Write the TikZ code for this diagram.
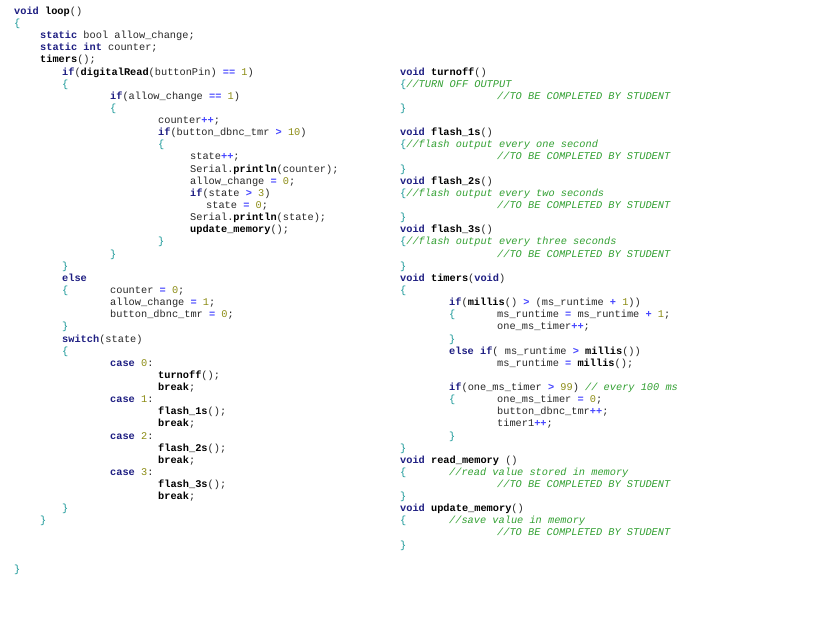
\documentclass[tikz,border=0pt]{standalone}
\usepackage{fontspec}
\setmainfont{Liberation Mono}
\definecolor{kwc}{RGB}{30,30,130}
\definecolor{opc}{RGB}{70,70,255}
\definecolor{nmc}{RGB}{140,140,20}
\definecolor{brc}{RGB}{20,150,150}
\definecolor{cmc}{RGB}{50,160,50}
\definecolor{txc}{RGB}{40,40,40}
\newcommand\kw[1]{\textcolor{kwc}{\textbf{#1}}}
\newcommand\fn[1]{\textcolor{black}{\textbf{#1}}}
\newcommand\op[1]{\textcolor{opc}{\textbf{#1}}}
\newcommand\nm[1]{\textcolor{nmc}{#1}}
\newcommand\br[1]{\textcolor{brc}{#1}}
\newcommand\cm[1]{\textcolor{cmc}{\textit{#1}}}
\newcounter{ln}
\newcommand\Ln[3]{\stepcounter{ln}\node[codeln] (l\arabic{ln}) at (#1,#2) {#3};}
\begin{document}
\begin{tikzpicture}[x=1pt,y=-1pt,
  codeln/.style={anchor=west,inner sep=0pt,text height=7pt,text depth=2pt,text=txc,font=\fontsize{10.3}{12}\selectfont}]
\useasboundingbox[fill=white] (0,0) rectangle (834,631);
\Ln{14}{12}{\kw{void} \fn{loop}()}
\Ln{14}{24}{\br{\{}}
\Ln{40}{36}{\kw{static} bool allow\_change;}
\Ln{40}{48}{\kw{static} \kw{int} counter;}
\Ln{40}{60}{\fn{timers}();}
\Ln{62}{73}{\kw{if}(\fn{digitalRead}(buttonPin) \op{==} \nm{1})}
\Ln{62}{85}{\br{\{}}
\Ln{110}{97}{\kw{if}(allow\_change \op{==} \nm{1})}
\Ln{110}{109}{\br{\{}}
\Ln{158}{121}{counter\op{++};}
\Ln{158}{133}{\kw{if}(button\_dbnc\_tmr \op{>} \nm{10})}
\Ln{158}{145}{\br{\{}}
\Ln{190}{157}{state\op{++};}
\Ln{190}{170}{Serial.\fn{println}(counter);}
\Ln{190}{182}{allow\_change \op{=} \nm{0};}
\Ln{190}{194}{\kw{if}(state \op{>} \nm{3})}
\Ln{206}{206}{state \op{=} \nm{0};}
\Ln{190}{218}{Serial.\fn{println}(state);}
\Ln{190}{230}{\fn{update\_memory}();}
\Ln{158}{242}{\br{\}}}
\Ln{110}{255}{\br{\}}}
\Ln{62}{267}{\br{\}}}
\Ln{62}{279}{\kw{else}}
\Ln{62}{291}{\br{\{}}
\Ln{110}{291}{counter \op{=} \nm{0};}
\Ln{110}{303}{allow\_change \op{=} \nm{1};}
\Ln{110}{315}{button\_dbnc\_tmr \op{=} \nm{0};}
\Ln{62}{327}{\br{\}}}
\Ln{62}{340}{\kw{switch}(state)}
\Ln{62}{352}{\br{\{}}
\Ln{110}{364}{\kw{case} \nm{0}:}
\Ln{158}{376}{\fn{turnoff}();}
\Ln{158}{388}{\fn{break};}
\Ln{110}{400}{\kw{case} \nm{1}:}
\Ln{158}{412}{\fn{flash\_1s}();}
\Ln{158}{424}{\fn{break};}
\Ln{110}{437}{\kw{case} \nm{2}:}
\Ln{158}{449}{\fn{flash\_2s}();}
\Ln{158}{461}{\fn{break};}
\Ln{110}{473}{\kw{case} \nm{3}:}
\Ln{158}{485}{\fn{flash\_3s}();}
\Ln{158}{497}{\fn{break};}
\Ln{62}{509}{\br{\}}}
\Ln{40}{521}{\br{\}}}
\Ln{14}{570}{\br{\}}}
% right column
\Ln{400}{73}{\kw{void} \fn{turnoff}()}
\Ln{400}{85}{\br{\{}\cm{//TURN OFF OUTPUT}}
\Ln{497}{97}{\cm{//TO BE COMPLETED BY STUDENT}}
\Ln{400}{109}{\br{\}}}
\Ln{400}{133}{\kw{void} \fn{flash\_1s}()}
\Ln{400}{145}{\br{\{}\cm{//flash output every one second}}
\Ln{497}{157}{\cm{//TO BE COMPLETED BY STUDENT}}
\Ln{400}{170}{\br{\}}}
\Ln{400}{182}{\kw{void} \fn{flash\_2s}()}
\Ln{400}{194}{\br{\{}\cm{//flash output every two seconds}}
\Ln{497}{206}{\cm{//TO BE COMPLETED BY STUDENT}}
\Ln{400}{218}{\br{\}}}
\Ln{400}{230}{\kw{void} \fn{flash\_3s}()}
\Ln{400}{242}{\br{\{}\cm{//flash output every three seconds}}
\Ln{497}{255}{\cm{//TO BE COMPLETED BY STUDENT}}
\Ln{400}{267}{\br{\}}}
\Ln{400}{279}{\kw{void} \fn{timers}(\kw{void})}
\Ln{400}{291}{\br{\{}}
\Ln{449}{303}{\kw{if}(\fn{millis}() \op{>} (ms\_runtime \op{+} \nm{1}))}
\Ln{449}{315}{\br{\{}}
\Ln{497}{315}{ms\_runtime \op{=} ms\_runtime \op{+} \nm{1};}
\Ln{497}{327}{one\_ms\_timer\op{++};}
\Ln{449}{340}{\br{\}}}
\Ln{449}{352}{\kw{else} \kw{if}( ms\_runtime \op{>} \fn{millis}())}
\Ln{497}{364}{ms\_runtime \op{=} \fn{millis}();}
\Ln{449}{388}{\kw{if}(one\_ms\_timer \op{>} \nm{99}) \cm{// every 100 ms}}
\Ln{449}{400}{\br{\{}}
\Ln{497}{400}{one\_ms\_timer \op{=} \nm{0};}
\Ln{497}{412}{button\_dbnc\_tmr\op{++};}
\Ln{497}{424}{timer1\op{++};}
\Ln{449}{437}{\br{\}}}
\Ln{400}{449}{\br{\}}}
\Ln{400}{461}{\kw{void} \fn{read\_memory} ()}
\Ln{400}{473}{\br{\{}}
\Ln{449}{473}{\cm{//read value stored in memory}}
\Ln{497}{485}{\cm{//TO BE COMPLETED BY STUDENT}}
\Ln{400}{497}{\br{\}}}
\Ln{400}{509}{\kw{void} \fn{update\_memory}()}
\Ln{400}{521}{\br{\{}}
\Ln{449}{521}{\cm{//save value in memory}}
\Ln{497}{533}{\cm{//TO BE COMPLETED BY STUDENT}}
\Ln{400}{546}{\br{\}}}
\end{tikzpicture}
\end{document}
